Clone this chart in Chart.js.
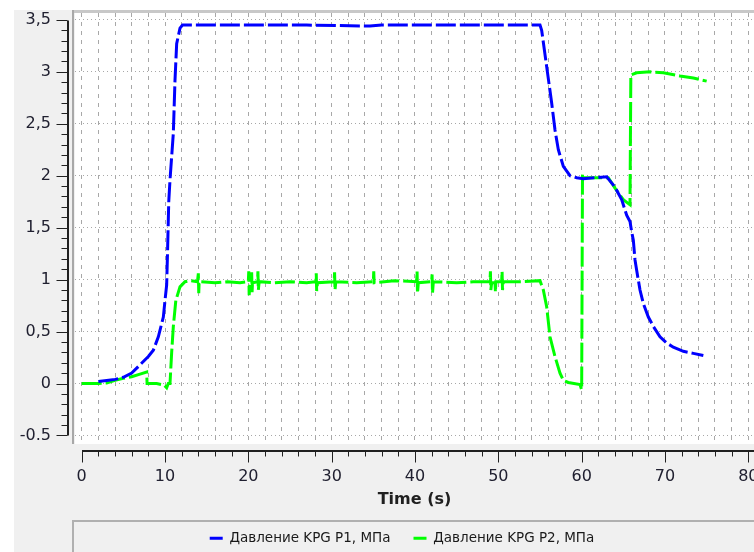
<!DOCTYPE html>
<html>
<head>
<meta charset="utf-8">
<script src="https://cdn.jsdelivr.net/npm/chart.js@4"></script>
<style>
    html, body { margin: 0; padding: 0; background: #ffffff; }
</style>
</head>
<body>
<canvas id="pressureChart" width="754" height="552"></canvas>
<script>
// Time, s
var p1Time = [2, 3, 4, 5, 6, 7, 8, 8.6, 9.2, 9.8,
    10.0, 10.2, 10.3, 10.45, 10.6, 11.0, 11.2, 11.4, 11.8, 12.1,
    20, 27, 34.6, 36, 45,
    55.0, 55.2, 55.8, 56.4, 56.8, 57.2, 57.8, 58.6, 59.4, 60.2,
    61.5, 63.0, 64.0, 64.8, 65.4, 65.8, 66.0, 66.2, 66.4, 66.6,
    67.0, 67.4, 68.0, 68.6, 69.4, 70.2, 71.0, 72.2, 73.4, 74.6];
// P1, MPa
var p1Pressure = [0.02, 0.03, 0.04, 0.06, 0.10, 0.18, 0.26, 0.32, 0.45, 0.64,
    0.80, 0.95, 1.25, 1.75, 1.96, 2.41, 2.92, 3.27, 3.42, 3.45,
    3.45, 3.45, 3.44, 3.45, 3.45,
    3.45, 3.40, 3.05, 2.70, 2.44, 2.25, 2.09, 2.00, 1.98, 1.97,
    1.98, 1.99, 1.89, 1.77, 1.62, 1.56, 1.46, 1.38, 1.19, 1.09,
    0.90, 0.77, 0.64, 0.55, 0.45, 0.39, 0.35, 0.31, 0.29, 0.27];

var p2Time = [0, 2, 3, 4, 5, 6, 7, 7.8, 7.85, 9,
    9.9, 10.2, 10.4, 10.6, 10.8, 11.0, 11.3, 11.8, 12.4, 13,
    13.9, 14.0, 14.05, 14.1, 16, 17.5, 19,
    20.0, 20.05, 20.1, 20.2, 20.4, 20.45, 20.5,
    21.1, 21.15, 21.2, 21.3, 23, 25, 27,
    28.1, 28.15, 28.2, 28.3, 30.3, 30.35, 30.4, 30.5, 33,
    35.0, 35.05, 35.1, 37.5,
    40.2, 40.25, 40.3, 40.4, 42.0, 42.05, 42.1, 42.2, 45, 47,
    49.0, 49.05, 49.1, 49.2, 49.6, 49.65, 49.7,
    50.4, 50.45, 50.5, 50.6, 53, 55.0,
    55.4, 55.8, 56.2, 56.8, 57.4, 57.8, 58.4, 59.8, 60.0, 60.1,
    60.2, 61.0, 63.2, 64.0, 65.0, 65.8, 65.9, 66.6, 68.2, 69.8,
    71.8, 73.4, 75.0];
// P2, MPa
var p2Pressure = [0, 0, 0.005, 0.03, 0.05, 0.065, 0.09, 0.11, 0.0, 0.0,
    -0.015, -0.04, 0.0, 0.0, 0.3, 0.55, 0.8, 0.93, 0.98, 0.99,
    0.98, 1.06, 0.87, 0.98, 0.97, 0.98, 0.97,
    0.98, 1.08, 0.85, 0.98, 1.07, 0.88, 0.97,
    0.98, 1.08, 0.90, 0.98, 0.97, 0.98, 0.97,
    0.98, 1.06, 0.89, 0.97, 0.98, 1.07, 0.90, 0.98, 0.97,
    0.98, 1.08, 0.97, 0.99,
    0.98, 1.08, 0.87, 0.97, 0.98, 1.05, 0.87, 0.98, 0.97, 0.98,
    0.98, 1.08, 0.90, 0.97, 0.97, 0.88, 0.98,
    0.98, 1.08, 0.90, 0.98, 0.98, 0.99,
    0.90, 0.74, 0.45, 0.26, 0.10, 0.03, 0.01, -0.01, -0.06, 2.02,
    1.98, 1.98, 1.98, 1.88, 1.77, 1.72, 2.97, 2.99, 3.00, 2.99,
    2.96, 2.94, 2.91];

var seriesNames = ['Давление KPG P1, МПа', 'Давление KPG P2, МПа'];
var yTickValues = [-0.5, 0, 0.5, 1, 1.5, 2, 2.5, 3, 3.5];
var yTickLabels = ['-0.5', '0', '0,5', '1', '1,5', '2', '2,5', '3', '3,5'];
var xTickLabels = ['0', '10', '20', '30', '40', '50', '60', '70', '80'];

function toPoints(xs, ys) {
    return xs.map(function (x, i) { return {x: x, y: ys[i]}; });
}

// panel background, plot frame, the detached axes with minor ticks, legend box
var panelPlugin = {
    id: 'panel',
    afterLayout: function (chart) {
        // legend sits in its own box that starts under the plot frame
        chart.legend.left = 50;
        chart.legend.top += 3;
        chart.legend.bottom += 3;
    },
    beforeDraw: function (chart) {
        var ctx = chart.ctx, a = chart.chartArea;
        ctx.save();
        ctx.fillStyle = '#ffffff';
        ctx.fillRect(0, 0, chart.width, chart.height);
        ctx.fillStyle = '#f0f0f0';
        ctx.fillRect(14, 10, chart.width - 14, chart.height - 10);
        ctx.fillStyle = '#ffffff';
        ctx.fillRect(a.left, a.top, a.right - a.left, a.bottom - a.top);
        ctx.fillStyle = '#c8c8c8';
        ctx.fillRect(a.left - 3, a.top - 3, a.right - a.left + 3, 3);
        ctx.fillStyle = '#a8a8a8';
        ctx.fillRect(a.left - 3, a.top - 3, 2, a.bottom - a.top + 3);
        // legend box
        ctx.strokeStyle = '#b0b0b0';
        ctx.lineWidth = 2;
        ctx.strokeRect(a.left - 2, a.bottom + 77, chart.width, 60);
        ctx.restore();
    },
    afterDraw: function (chart) {
        var ctx = chart.ctx, a = chart.chartArea;
        var xs = chart.scales.x, ys = chart.scales.y;
        ctx.save();
        ctx.strokeStyle = '#202020';
        ctx.lineWidth = 1;
        // y axis
        var ax = a.left - 7.5;
        var yTop = Math.round(ys.getPixelForValue(3.5)) + 0.5;
        var yBot = Math.round(ys.getPixelForValue(-0.5)) + 0.5;
        ctx.beginPath();
        ctx.moveTo(ax, yTop);
        ctx.lineTo(ax, yBot);
        ctx.moveTo(ax + 1, yTop);
        ctx.lineTo(ax + 1, yBot);
        for (var i = -5; i <= 35; i++) {
            var py = Math.round(ys.getPixelForValue(i / 10)) + 0.5;
            var len = (i % 5 === 0) ? 11 : 6;
            ctx.moveTo(ax, py);
            ctx.lineTo(ax - len, py);
        }
        ctx.stroke();
        // x axis
        var ay = a.bottom + 6.5;
        ctx.beginPath();
        ctx.moveTo(Math.round(xs.getPixelForValue(0)), ay);
        ctx.lineTo(chart.width, ay);
        ctx.moveTo(Math.round(xs.getPixelForValue(0)), ay + 1);
        ctx.lineTo(chart.width, ay + 1);
        for (var t = 0; t <= 80; t += 2) {
            var px = Math.round(xs.getPixelForValue(t)) + 0.5;
            var tl = (t % 10 === 0) ? 12 : 6;
            ctx.moveTo(px, ay);
            ctx.lineTo(px, ay + tl);
        }
        ctx.stroke();
        ctx.restore();
    }
};

var ctx = document.getElementById('pressureChart').getContext('2d');
var pressureChart = new Chart(ctx, {
    type: 'line',
    data: {
        datasets: [{
            label: seriesNames[0],
            data: toPoints(p1Time, p1Pressure),
            borderColor: '#0000ff',
            backgroundColor: '#0000ff',
            borderWidth: 3,
            borderDash: [20, 4],
            pointRadius: 0,
            tension: 0,
            fill: false
        }, {
            label: seriesNames[1],
            data: toPoints(p2Time, p2Pressure),
            borderColor: '#00ff00',
            backgroundColor: '#00ff00',
            borderWidth: 3,
            borderDash: [20, 4],
            pointRadius: 0,
            tension: 0,
            fill: false
        }]
    },
    options: {
        responsive: false,
        animation: false,
        layout: {
            autoPadding: false,
            padding: {left: 0, top: 13, right: 0, bottom: 0}
        },
        plugins: {
            tooltip: {enabled: false},
            legend: {
                position: 'bottom',
                labels: {
                    font: {family: 'DejaVu Sans', size: 13.5},
                    color: '#1a1a1a',
                    boxWidth: 13,
                    boxHeight: 3,
                    padding: 23,
                    generateLabels: function (chart) {
                        return Chart.defaults.plugins.legend.labels.generateLabels(chart).map(function (item) {
                            item.fillStyle = item.strokeStyle;
                            item.lineWidth = 0;
                            item.lineDash = [];
                            return item;
                        });
                    }
                }
            }
        },
        scales: {
            x: {
                type: 'linear',
                min: -0.8,
                max: 80.68,
                afterFit: function (scale) {
                    scale.height = 108 - scale.chart.legend.height;
                    scale.paddingLeft = 0;
                    scale.paddingRight = 0;
                },
                ticks: {
                    stepSize: 2,
                    includeBounds: false,
                    autoSkip: false,
                    maxRotation: 0,
                    padding: 23,
                    color: '#202030',
                    font: {family: 'DejaVu Sans', size: 16},
                    callback: function (value) {
                        var label = String(value);
                        return xTickLabels.indexOf(label) >= 0 ? label : '';
                    }
                },
                grid: {
                    color: '#a8a8a8',
                    lineWidth: 1,
                    drawTicks: false
                },
                border: {display: false, dash: [4, 5]},
                title: {
                    display: true,
                    text: 'Time (s)',
                    color: '#202020',
                    font: {family: 'DejaVu Sans', size: 16, weight: 'bold'},
                    padding: {top: 0, bottom: -4}
                }
            },
            y: {
                min: -0.582,
                max: 3.566,
                afterFit: function (scale) {
                    scale.width = 75;
                    scale.paddingTop = 0;
                    scale.paddingBottom = 0;
                },
                ticks: {
                    stepSize: 0.5,
                    includeBounds: false,
                    padding: 24,
                    color: '#202030',
                    font: {family: 'DejaVu Sans', size: 16},
                    callback: function (value) {
                        for (var i = 0; i < yTickValues.length; i++) {
                            if (Math.abs(yTickValues[i] - value) < 1e-6) return yTickLabels[i];
                        }
                        return '';
                    }
                },
                grid: {
                    color: '#a8a8a8',
                    lineWidth: 1,
                    drawTicks: false
                },
                border: {display: false, dash: [1, 3]}
            }
        }
    },
    plugins: [panelPlugin]
});
</script>
</body>
</html>
